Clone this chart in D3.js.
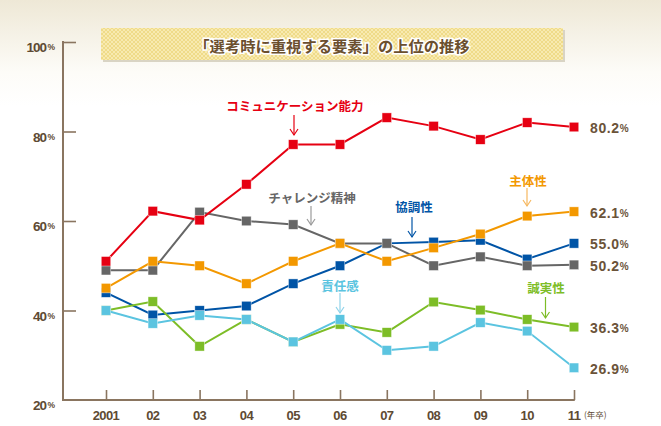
<!DOCTYPE html>
<html><head><meta charset="utf-8">
<script src="https://cdn.jsdelivr.net/npm/d3@7"></script>
<style>
html,body{margin:0;padding:0;background:#fff;}
svg{display:block;}
</style></head>
<body>
<svg id="chart" width="661" height="426"></svg>
<script>
const years = ["2001","02","03","04","05","06","07","08","09","10","11"];
const yTicks = [20,40,60,80,100];
const seriesNames = ["協調性","チャレンジ精神","誠実性","責任感","主体性","コミュニケーション能力"];
const seriesColors = ["#0054a6","#666666","#7dbd27","#5bc4e0","#f39800","#e60012"];
const kyochosei   = [44,39,40,41,46,50,55,55.3,55.7,51.5,55.0];
const challenge   = [49,49,62,60,59.2,55,55,50,52,50,50.2];
const seijitsu    = [40,42,32,38,33,36.9,35.1,41.9,40.1,38,36.3];
const sekinin     = [40,37.1,38.9,38,33,38,31.1,32,37.3,35.4,27.2];
const shutaisei   = [45,51,50,46,51,55,51,54,57.1,61.1,62.1];
const comm        = [51,62.2,60.2,68.2,77.1,77.1,83.1,81.2,78.2,82,81];
const seriesValues = [kyochosei, challenge, seijitsu, sekinin, shutaisei, comm];
const endLabels = ["55.0","50.2","36.3","26.9","62.1","80.2"];
const endLabelValues = [55.0,50.2,36.3,27.2,62.1,81];

const svg = d3.select("#chart");
const defs = svg.append("defs");
const bg = defs.append("linearGradient").attr("id","bg").attr("x1",0).attr("y1",0).attr("x2",0).attr("y2",1);
bg.append("stop").attr("offset","0%").attr("stop-color","#eee8d6");
bg.append("stop").attr("offset","17%").attr("stop-color","#fdfcf8");
bg.append("stop").attr("offset","25%").attr("stop-color","#ffffff");
svg.append("rect").attr("width",661).attr("height",426).attr("fill","url(#bg)");

const pat = defs.append("pattern").attr("id","hatch").attr("width",4).attr("height",4).attr("patternUnits","userSpaceOnUse");
pat.append("rect").attr("width",4).attr("height",4).attr("fill","#f8eab0");
pat.append("path").attr("d","M0,0L4,4M4,0L0,4").attr("stroke","#ecd77f").attr("stroke-width",0.8);

// title box
svg.append("rect").attr("x",103).attr("y",30).attr("width",462).attr("height",32).attr("fill","#d9d4c4");
svg.append("rect").attr("x",101).attr("y",28).attr("width",462).attr("height",32).attr("fill","url(#hatch)");
svg.append("text").attr("x",332).attr("y",45).attr("text-anchor","middle").attr("dominant-baseline","central")
  .attr("font-family","'Noto Sans CJK JP'").attr("font-weight","bold").attr("font-size",15.3)
  .attr("fill","#6b4f2e").attr("stroke","#fff").attr("stroke-width",3).attr("paint-order","stroke")
  .text("「選考時に重視する要素」の上位の推移");

const x = d3.scalePoint().domain(years).range([106,574]);
const y = d3.scaleLinear().domain([20,100]).range([400,42]);
const axisColor = "#8a7560";
const labelColor = "#5e4a33";

// y axis
const ya = svg.append("g").attr("transform","translate(63,0)")
  .call(d3.axisLeft(y).tickValues(yTicks.filter(d=>d>20)).tickSize(-13).tickFormat(""));
ya.select(".domain").remove();
ya.selectAll("line").attr("stroke",axisColor).attr("stroke-width",1.6);
svg.append("line").attr("x1",63).attr("x2",63).attr("y1",y(100)-1).attr("y2",y(20)+1)
  .attr("stroke",axisColor).attr("stroke-width",2);
yTicks.forEach(v=>{
  const t = svg.append("text").attr("x",54).attr("y",y(v)+5).attr("text-anchor","end")
    .attr("dominant-baseline","central").attr("font-family","'Liberation Sans'").attr("font-weight","bold")
    .attr("fill",labelColor).attr("letter-spacing",-1);
  t.append("tspan").attr("font-size",13.5).text(v);
  t.append("tspan").attr("font-size",8.5).attr("dx",1.5).text("%");
});

// x axis
const xa = svg.append("g").attr("transform","translate(0,400)")
  .call(d3.axisBottom(x).tickSize(-10).tickFormat(""));
xa.select(".domain").remove();
xa.selectAll("line").attr("stroke",axisColor).attr("stroke-width",1.6);
svg.append("line").attr("x1",62).attr("x2",x("11")+0.8).attr("y1",400).attr("y2",400)
  .attr("stroke",axisColor).attr("stroke-width",2);
years.forEach(yr=>{
  svg.append("text").attr("x",x(yr)).attr("y",415).attr("text-anchor","middle").attr("dominant-baseline","central")
    .attr("font-family","'Liberation Sans'").attr("font-weight","bold").attr("font-size",13)
    .attr("fill",labelColor).attr("letter-spacing",-0.6).text(yr);
});
svg.append("text").attr("x",x("11")+10).attr("y",414).attr("dominant-baseline","central")
  .attr("font-family","'Noto Sans CJK JP'").attr("font-size",8.5).attr("fill",labelColor).text("(年卒)");

// series
const line = d3.line().x((d,i)=>x(years[i])).y(d=>y(d));
seriesValues.forEach((vals,si)=>{
  const g = svg.append("g");
  g.append("path").attr("d",line(vals)).attr("fill","none").attr("stroke",seriesColors[si]).attr("stroke-width",2);
  g.selectAll("rect").data(vals).join("rect")
    .attr("x",(d,i)=>x(years[i])-4.75).attr("y",d=>y(d)-4.75).attr("width",9.5).attr("height",9.5)
    .attr("fill",seriesColors[si]).attr("stroke","#fff").attr("stroke-width",0.6).attr("stroke-opacity",0.7);
  const t = svg.append("text").attr("x",590).attr("y",y(endLabelValues[si])+1).attr("dominant-baseline","central")
    .attr("font-family","'Liberation Sans'").attr("font-weight","bold").attr("fill","#6b5339");
  t.append("tspan").attr("font-size",14).attr("letter-spacing",0.6).text(endLabels[si]);
  t.append("tspan").attr("font-size",10).attr("dx",0).text("%");
});

// series name labels with arrows
const nameLabels = [
  {si:5, x:295, y:105, ax:294, a1:115, a2:135},
  {si:1, x:312, y:197, ax:311, a1:206, a2:225},
  {si:0, x:414, y:206, ax:412, a1:217, a2:237},
  {si:4, x:528, y:180, ax:527, a1:188, a2:206},
  {si:3, x:340, y:285, ax:340, a1:293, a2:313},
  {si:2, x:546, y:287, ax:545.5, a1:297, a2:318}
];
const arrowColors = {5:"#e60012",1:"#9a9a9a",0:"#0054a6",4:"#f6b860",3:"#8fd3ea",2:"#7dbd27"};
nameLabels.forEach(l=>{
  svg.append("text").attr("x",l.x).attr("y",l.y).attr("text-anchor","middle").attr("dominant-baseline","central")
    .attr("font-family","'Noto Sans CJK JP'").attr("font-weight","bold").attr("font-size",12.5)
    .attr("fill",seriesColors[l.si]).text(seriesNames[l.si]);
  const c = arrowColors[l.si];
  svg.append("line").attr("x1",l.ax).attr("x2",l.ax).attr("y1",l.a1).attr("y2",l.a2).attr("stroke",c).attr("stroke-width",1.2);
  svg.append("path").attr("d",`M${l.ax-4},${l.a2-6}L${l.ax},${l.a2}L${l.ax+4},${l.a2-6}`)
    .attr("fill","none").attr("stroke",c).attr("stroke-width",1.2);
});
</script>
</body></html>
